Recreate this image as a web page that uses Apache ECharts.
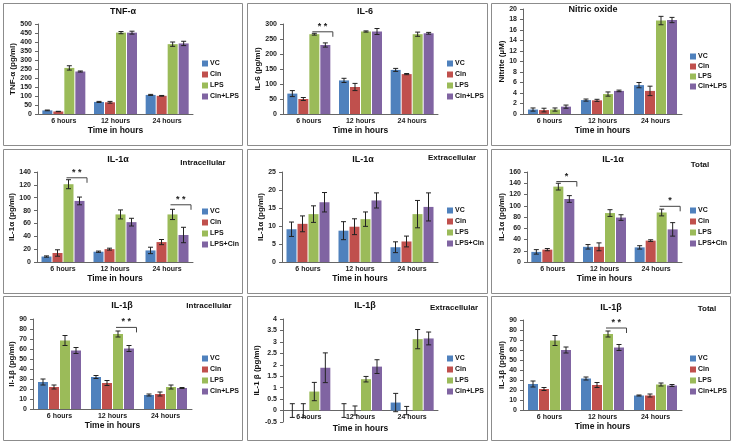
<!DOCTYPE html>
<html lang="en">
<head>
    <meta charset="utf-8">
    <title>Cytokine panels</title>
    <script src="https://cdn.jsdelivr.net/npm/echarts@6/dist/echarts.min.js"></script>
    <style type="text/css">
        html, body {
            width: 100%;
            height: 100%;
            margin: 0px;
            padding: 0px;
            background: #fff;
        }

        #main {
            width: 733px;
            height: 444px;
        }
    </style>
</head>
<body>
<div id="main"></div>
<script>
    // ---- data (mean / error per group, one row per group: VC, Cin, LPS, Cin+LPS) ----
    var categories = ['6 hours', '12 hours', '24 hours'];
    var groupsA = ['VC', 'Cin', 'LPS', 'Cin+LPS'];
    var groupsB = ['VC', 'Cin', 'LPS', 'LPS+Cin'];

    var tnfMean = [[20, 67, 106], [14, 65, 101], [256, 452, 388], [236, 452, 392]];
    var tnfErr = [[2, 3, 3], [1, 5, 2], [12, 6, 12], [3, 8, 12]];

    var il6Mean = [[68, 112, 147], [50, 90, 133], [266, 275, 266], [230, 275, 269]];
    var il6Err = [[10, 7, 5], [5, 12, 2], [3, 2, 7], [7, 10, 3]];
    var il6Sig = [[0, 274, '* *']];

    var noMean = [[0.85, 2.65, 5.5], [0.75, 2.6, 4.4], [0.85, 3.8, 17.8], [1.4, 4.4, 17.9]];
    var noErr = [[0.3, 0.2, 0.5], [0.35, 0.2, 0.9], [0.3, 0.4, 0.8], [0.3, 0.15, 0.5]];

    var il1aInMean = [[8.5, 16, 18], [14, 20, 31], [121, 74, 74], [95, 62, 42]];
    var il1aInErr = [[1, 1, 5], [5, 1.5, 4], [7, 7, 8], [6, 6, 12]];
    var il1aInSig = [[0, 131, '* *'], [2, 89, '* *']];

    var il1aExMean = [[9.1, 8.7, 4.1], [10.6, 9.8, 5.7], [13.3, 11.9, 13.3], [16.6, 17.1, 15.3]];
    var il1aExErr = [[2, 2.5, 1.5], [2.2, 2.2, 1.5], [2.3, 2, 3.8], [2.7, 2.1, 3.9]];

    var il1aTotMean = [[18, 27, 26], [22, 27, 38], [134, 87, 88], [112, 79, 58]];
    var il1aTotErr = [[4, 4, 3], [2, 7, 1.5], [6, 6, 6], [6, 5, 12]];
    var il1aTotSig = [[0, 143, '*'], [2, 99, '*']];

    var il1bInMean = [[27, 32, 14], [22, 26, 15], [68.5, 75, 22], [58.5, 60.5, 21]];
    var il1bInErr = [[3, 1.5, 1], [2, 2.5, 2], [5, 3, 2], [3, 3, 0.5]];
    var il1bInSig = [[1, 81.6, '* *']];

    var il1bExMean = [[0, 0, 0.35], [0, 0, 0], [0.83, 1.37, 3.12], [1.87, 1.92, 3.15]];
    var il1bExErr = [[0.3, 0.3, 0.4], [0.3, 0.2, 0.18], [0.4, 0.12, 0.42], [0.65, 0.3, 0.28]];

    var il1bTotMean = [[26, 31.5, 14.5], [21, 25, 14.5], [69.5, 76, 25.5], [60, 62.5, 24.5]];
    var il1bTotErr = [[3, 1.5, 0.5], [1.5, 2.5, 1.5], [5, 3, 1.5], [3, 3, 1]];
    var il1bTotSig = [[1, 82, '* *']];

    var colors = ['#4F81BD', '#C0504D', '#9BBB59', '#8064A2'];
    var FONT = '"Liberation Sans", Arial, sans-serif';
    var BW = 10, STEP = 11;

    // panel content
    var panels = [
        {mean: tnfMean, err: tnfErr, names: groupsA, yName: 'TNF-α (pg/ml)', min: 0, max: 500, step: 50, title: 'TNF-α', sub: '', sig: []},
        {mean: il6Mean, err: il6Err, names: groupsA, yName: 'IL-6 (pg/ml)', min: 0, max: 300, step: 50, title: 'IL-6', sub: '', sig: il6Sig},
        {mean: noMean, err: noErr, names: groupsA, yName: 'Nitrite (µM)', min: 0, max: 20, step: 2, title: 'Nitric oxide', sub: '', sig: []},
        {mean: il1aInMean, err: il1aInErr, names: groupsB, yName: 'IL-1α (pg/ml)', min: 0, max: 140, step: 20, title: 'IL-1α', sub: 'Intracellular', sig: il1aInSig},
        {mean: il1aExMean, err: il1aExErr, names: groupsB, yName: 'IL-1α (pg/ml)', min: 0, max: 25, step: 5, title: 'IL-1α', sub: 'Extracellular', sig: []},
        {mean: il1aTotMean, err: il1aTotErr, names: groupsB, yName: 'IL-1α (pg/ml)', min: 0, max: 160, step: 20, title: 'IL-1α', sub: 'Total', sig: il1aTotSig},
        {mean: il1bInMean, err: il1bInErr, names: groupsA, yName: 'Il-1β (pg/ml)', min: 0, max: 90, step: 10, title: 'IL-1β', sub: 'Intracellular', sig: il1bInSig},
        {mean: il1bExMean, err: il1bExErr, names: groupsA, yName: 'IL-1 β (pg/ml)', min: -0.5, max: 4, step: 0.5, title: 'IL-1β', sub: 'Extracellular', sig: []},
        {mean: il1bTotMean, err: il1bTotErr, names: groupsA, yName: 'IL-1β (pg/ml)', min: 0, max: 90, step: 10, title: 'IL-1β', sub: 'Total', sig: il1bTotSig}
    ];

    // panel layout (pixels); lm / ng = x label margin / x name gap
    var layout = [
        {box: [3, 3, 239, 142], grid: [38, 24, 155, 90], t: [123, 12], s: null, lg: [202, 60], gap: 12, lm: 4, ng: 12},
        {box: [247, 3, 240, 142], grid: [283, 24, 155, 90], t: [365, 12], s: null, lg: [447, 60], gap: 12, lm: 4, ng: 12},
        {box: [491, 3, 239, 142], grid: [523, 9, 159, 105], t: [593, 10], s: null, lg: [690, 53], gap: 11, lm: 4, ng: 12},
        {box: [3, 149, 239, 144], grid: [37, 172, 156, 90], t: [118, 160], s: [203, 163], lg: [202, 208], gap: 12, lm: 4, ng: 12},
        {box: [247, 149, 240, 144], grid: [282, 172, 156, 90], t: [363, 160], s: [452, 158], lg: [447, 207], gap: 12, lm: 4, ng: 12},
        {box: [491, 149, 239, 144], grid: [527, 172, 155, 90], t: [613, 160], s: [700, 165], lg: [690, 207], gap: 12, lm: 4, ng: 12},
        {box: [3, 296, 239, 144], grid: [33, 319, 159, 90], t: [122, 306], s: [209, 306], lg: [202, 355], gap: 12, lm: 4, ng: 12},
        {box: [247, 296, 240, 144], grid: [283, 319, 155, 103], t: [365, 306], s: [454, 308], lg: [447, 355], gap: 12, lm: -8, ng: 2},
        {box: [491, 296, 239, 144], grid: [523, 320, 159, 90], t: [611, 308], s: [707, 309], lg: [690, 355], gap: 12, lm: 4, ng: 12}
    ];

    function errorItem(g) {
        return function (params, api) {
            var c = api.coord([api.value(0), api.value(1)]);
            var x = c[0] + (g - 1.5) * STEP;
            var hi = api.coord([api.value(0), api.value(1) + api.value(2)])[1];
            var lo = api.coord([api.value(0), api.value(1) - api.value(2)])[1];
            var st = {stroke: '#222', lineWidth: 1};
            return {
                type: 'group',
                children: [
                    {type: 'line', shape: {x1: x, y1: hi, x2: x, y2: lo}, style: st},
                    {type: 'line', shape: {x1: x - 2.5, y1: hi, x2: x + 2.5, y2: hi}, style: st},
                    {type: 'line', shape: {x1: x - 2.5, y1: lo, x2: x + 2.5, y2: lo}, style: st}
                ]
            };
        };
    }

    function bracketItem(params, api) {
        var c = api.coord([api.value(0), api.value(1)]);
        var x1 = c[0] + 3.5, x2 = c[0] + 24, y = c[1];
        var st = {stroke: '#444', lineWidth: 1};
        return {
            type: 'group',
            children: [
                {type: 'line', shape: {x1: x1, y1: y, x2: x2, y2: y}, style: st},
                {type: 'line', shape: {x1: x2, y1: y, x2: x2, y2: y + 5}, style: st},
                {type: 'text', style: {
                    text: api.value(2), x: (x1 + x2) / 2, y: y - 1,
                    align: 'center', verticalAlign: 'bottom',
                    font: 'bold 9px ' + FONT, fill: '#222'
                }}
            ]
        };
    }

    var grids = [], xAxes = [], yAxes = [], legends = [], series = [], graphics = [];

    panels.forEach(function (p, i) {
        var L = layout[i];
        graphics.push({
            type: 'rect', shape: {x: L.box[0] + 0.5, y: L.box[1] + 0.5, width: L.box[2], height: L.box[3]},
            style: {fill: '#fff', stroke: '#8c8c8c', lineWidth: 1}, z: -10
        });
        graphics.push({
            type: 'text', x: L.t[0], y: L.t[1],
            style: {text: p.title, align: 'center', verticalAlign: 'middle', font: 'bold 9px ' + FONT, fill: '#111'}
        });
        if (L.s) {
            graphics.push({
                type: 'text', x: L.s[0], y: L.s[1],
                style: {text: p.sub, align: 'center', verticalAlign: 'middle', font: 'bold 8px ' + FONT, fill: '#111'}
            });
        }

        grids.push({left: L.grid[0], top: L.grid[1], width: L.grid[2], height: L.grid[3]});

        xAxes.push({
            type: 'category', gridIndex: i, data: categories,
            axisLine: {lineStyle: {color: '#666', width: 1}},
            axisTick: {length: 4, lineStyle: {color: '#666'}},
            axisLabel: {fontSize: 7, fontWeight: 'bold', fontFamily: FONT, color: '#222', margin: L.lm},
            name: 'Time in hours', nameLocation: 'middle', nameGap: L.ng,
            nameTextStyle: {fontSize: 8.5, fontWeight: 'bold', fontFamily: FONT, color: '#111'}
        });

        yAxes.push({
            type: 'value', gridIndex: i, min: p.min, max: p.max, interval: p.step,
            splitLine: {show: false},
            axisLine: {show: true, lineStyle: {color: '#666', width: 1}},
            axisTick: {show: true, length: 3, lineStyle: {color: '#666'}},
            axisLabel: {fontSize: 7, fontWeight: 'bold', fontFamily: FONT, color: '#222', margin: 6},
            name: p.yName, nameLocation: 'middle', nameRotate: 90, nameGap: 16,
            nameTextStyle: {fontSize: 8, fontWeight: 'bold', fontFamily: FONT, color: '#111'}
        });

        legends.push({
            orient: 'vertical', left: L.lg[0], top: L.lg[1], padding: 0,
            data: p.names, icon: 'rect', itemWidth: 6, itemHeight: 6, itemGap: L.gap - 8,
            selectedMode: false,
            textStyle: {fontSize: 7, fontWeight: 'bold', fontFamily: FONT, color: '#111', padding: [0, 0, 0, -3]}
        });

        p.names.forEach(function (name, g) {
            series.push({
                type: 'bar', name: name, xAxisIndex: i, yAxisIndex: i,
                data: p.mean[g], barWidth: BW, barGap: '10%',
                itemStyle: {color: colors[g]}
            });
        });

        p.names.forEach(function (name, g) {
            series.push({
                type: 'custom', xAxisIndex: i, yAxisIndex: i,
                renderItem: errorItem(g), z: 5, silent: true,
                encode: {x: 0, y: 1},
                data: categories.map(function (c, j) { return [j, p.mean[g][j], p.err[g][j]]; })
            });
        });

        if (p.sig.length) {
            series.push({
                type: 'custom', xAxisIndex: i, yAxisIndex: i,
                renderItem: bracketItem, z: 6, silent: true,
                encode: {x: 0, y: 1},
                data: p.sig
            });
        }
    });

    var myChart = echarts.init(document.getElementById('main'));
    myChart.setOption({
        animation: false,
        backgroundColor: '#fff',
        color: colors,
        grid: grids,
        xAxis: xAxes,
        yAxis: yAxes,
        legend: legends,
        graphic: graphics,
        series: series
    });
</script>
</body>
</html>
